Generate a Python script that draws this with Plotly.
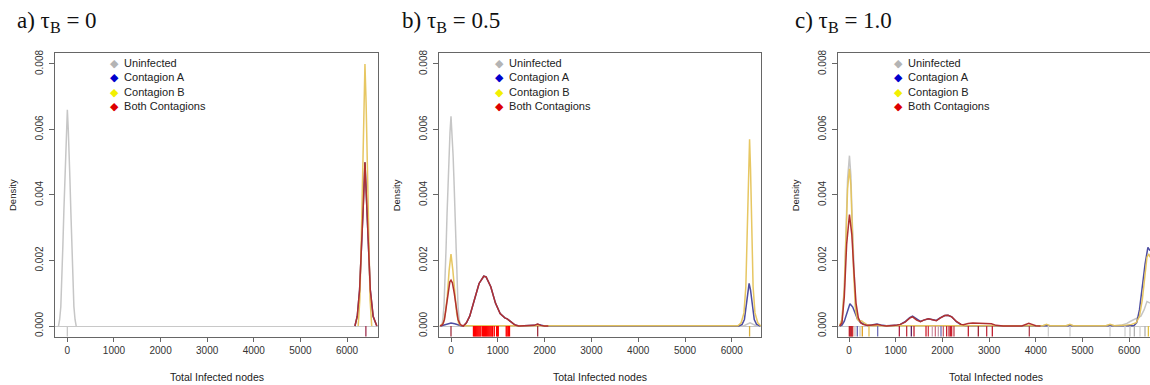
import plotly.graph_objects as go

# ---------------- data ----------------
X_TICKS = [0, 1000, 2000, 3000, 4000, 5000, 6000]
Y_TICKS = [0.0, 0.002, 0.004, 0.006, 0.008]
Y_TICK_TEXT = ["0.000", "0.002", "0.004", "0.006", "0.008"]
SERIES = ["Uninfected", "Contagion A", "Contagion B", "Both Contagions"]
PANEL_TITLES = ["a) \u03c4<sub>B</sub> = 0", "b) \u03c4<sub>B</sub> = 0.5", "c) \u03c4<sub>B</sub> = 1.0"]

# panel a : tau_B = 0
A_UNINF_X = [-190, -165, -140, -115, -95, -75, -55, -40, -20, 0, 20, 40, 55, 75, 95, 115, 140, 165, 190]
A_UNINF_Y = [0.0, 0.0002, 0.0006, 0.0014, 0.0025, 0.0035, 0.0045, 0.0053, 0.0060, 0.0066,
             0.0060, 0.0053, 0.0045, 0.0035, 0.0025, 0.0014, 0.0006, 0.0002, 0.0]
A_CONTA_X = [6170, 6220, 6270, 6310, 6350, 6385, 6420, 6460, 6500, 6560, 6640]
A_CONTA_Y = [0.0, 0.0003, 0.0011, 0.0022, 0.0037, 0.0050, 0.0037, 0.0022, 0.0011, 0.0003, 0.0]
A_CONTB_X = [6240, 6275, 6305, 6335, 6360, 6385, 6410, 6435, 6465, 6495, 6530]
A_CONTB_Y = [0.0, 0.0008, 0.0025, 0.0050, 0.0068, 0.0080, 0.0068, 0.0050, 0.0025, 0.0008, 0.0]
A_BOTH_X = [6170, 6220, 6270, 6310, 6350, 6385, 6420, 6460, 6500, 6560, 6640]
A_BOTH_Y = [0.0, 0.0003, 0.0011, 0.0022, 0.0037, 0.0050, 0.0037, 0.0022, 0.0011, 0.0003, 0.0]
A_RUG_X = [0, 6405]
A_RUG_C = ["#c8c8c8", "#a03050"]

# panel b : tau_B = 0.5
B_UNINF_X = [-200, -175, -150, -125, -105, -85, -65, -45, -22, 0, 22, 45, 65, 85, 105, 125, 150, 175, 200,
             6250, 6320, 6390, 6460, 6530]
B_UNINF_Y = [0.0, 0.0002, 0.0006, 0.0014, 0.0024, 0.0034, 0.0044, 0.0052, 0.0059, 0.0064,
             0.0059, 0.0052, 0.0044, 0.0034, 0.0024, 0.0014, 0.0006, 0.0002, 0.0,
             0.0, 0.00005, 0.0001, 0.00005, 0.0]
B_CONTA_X = [-220, -150, -80, 0, 80, 150, 230, 270, 330, 400, 500, 600, 700, 750, 850, 950, 1050, 1150,
             1200, 1280, 1370, 1450, 1780, 1850, 1920, 2000,
             6150, 6220, 6270, 6310, 6340, 6370, 6400, 6440, 6480, 6530, 6610]
B_CONTA_Y = [0.0, 0.00003, 0.00007, 0.00009, 0.00007, 0.00003, 0.0, 0.0, 0.0001, 0.0003, 0.0008, 0.0013,
             0.00152, 0.0015, 0.0012, 0.0007, 0.00038, 0.00025, 0.00022, 0.00012, 0.00003, 0.0,
             0.00002, 0.00005, 0.00002, 0.0,
             0.0, 0.00005, 0.0002, 0.0006, 0.0010, 0.0013, 0.0011, 0.0006, 0.0002, 0.00005, 0.0]
B_CONTB_X = [-235, -160, -120, -80, -40, 0, 40, 80, 120, 160, 200, 260, 6130, 6200, 6260, 6300, 6335,
             6360, 6380, 6400, 6425, 6455, 6495, 6555, 6620]
B_CONTB_Y = [0.0, 0.0001, 0.0004, 0.0009, 0.0017, 0.0022, 0.0017, 0.0009, 0.0004, 0.0001, 0.00002,
             0.00001, 0.00001, 0.0001, 0.0004, 0.0012, 0.0030, 0.0048, 0.0057, 0.0048, 0.0030, 0.0012,
             0.0004, 0.0001, 0.0]
B_BOTH_X = [-235, -180, -140, -100, -60, -25, 0, 30, 70, 110, 150, 200, 263, 330, 400, 500, 600, 700, 750,
            850, 950, 1050, 1150, 1200, 1280, 1370, 1450, 1700, 1780, 1850, 1920, 2000, 2080]
B_BOTH_Y = [0.0, 0.00004, 0.0002, 0.0006, 0.0011, 0.00135, 0.0014, 0.00132, 0.0010, 0.0006, 0.0002,
            0.00004, 0.0, 0.0001, 0.0003, 0.0008, 0.0013, 0.00152, 0.0015, 0.0012, 0.0007, 0.00038,
            0.00025, 0.00022, 0.00012, 0.00003, 0.0, 0.0, 0.00002, 0.00006, 0.00002, 0.0, 0.0]
B_RUG_X = [0, 480, 500, 520, 540, 560, 580, 600, 620, 640, 675, 695, 715, 735, 755, 775, 795, 815, 835,
           855, 875, 890, 925, 975, 995, 1010, 1180, 1200, 1225, 1250, 1852, 6380]
B_RUG_C = ["#a03040"] + ["#ff0000"] * 29 + ["#a03040", "#d8b040"]

# panel c : tau_B = 1.0
C_UNINF_X = [-200, -150, -100, -60, -30, 10, 40, 70, 100, 140, 180, 230, 280, 340, 420, 4150, 4230, 4300,
             4650, 4730, 4800, 5500, 5590, 5680, 5850, 5950, 6050, 6150, 6250, 6320, 6380, 6445]
C_UNINF_Y = [0.0, 0.0002, 0.0012, 0.0030, 0.0045, 0.0052, 0.0046, 0.0032, 0.0018, 0.0006, 0.00025,
             0.00015, 0.0001, 0.00004, 0.00001, 0.00001, 0.00004, 0.00001, 0.00001, 0.00004, 0.00001,
             0.00001, 0.00004, 0.00001, 0.00003, 0.00008, 0.00016, 0.00022, 0.0003, 0.0005, 0.00075,
             0.0007]
C_CONTA_X = [-200, -150, -100, -50, 20, 80, 130, 180, 250, 330, 420, 520, 600, 680, 800, 1000, 1100, 1200,
             1300, 1360, 1450, 1530, 1600, 1700, 1800, 1870, 1950, 2050, 2120, 2200, 2300, 2400, 2500,
             6100, 6160, 6220, 6280, 6340, 6400, 6445]
C_CONTA_Y = [0.0, 0.00003, 0.00015, 0.0004, 0.00068, 0.00058, 0.0004, 0.00022, 0.0001, 0.00005, 0.00002,
             0.00003, 0.00006, 0.00003, 0.00001, 0.00002, 0.00005, 0.00013, 0.00026, 0.0003, 0.0002,
             0.00014, 0.00018, 0.00022, 0.00019, 0.00017, 0.00025, 0.00032, 0.00033, 0.00028, 0.00013,
             0.00004, 0.00001, 0.00001, 0.0001, 0.0005, 0.0012, 0.0019, 0.0024, 0.0023]
C_CONTB_X = [-200, -150, -100, -60, -30, 10, 40, 70, 100, 140, 180, 230, 270, 320, 400, 500, 4150, 4230,
             4300, 4650, 4730, 4800, 5500, 5590, 5680, 5900, 6050, 6150, 6220, 6280, 6330, 6380, 6420, 6445]
C_CONTB_Y = [0.0, 0.0002, 0.0011, 0.0028, 0.0042, 0.0048, 0.0043, 0.0030, 0.0016, 0.0005, 0.0002,
             0.00014, 0.00016, 0.0001, 0.00003, 0.00001, 0.00001, 0.00005, 0.00001, 0.00001, 0.00005,
             0.00001, 0.00001, 0.00005, 0.00001, 0.00002, 0.00005, 0.0001, 0.0003, 0.0008, 0.0015, 0.0021,
             0.0022, 0.0021]
C_BOTH_X = [-200, -150, -100, -50, 10, 60, 100, 150, 200, 250, 300, 400, 500, 600, 700, 800, 1000, 1100,
            1200, 1300, 1360, 1450, 1530, 1600, 1700, 1800, 1870, 1950, 2050, 2120, 2200, 2300, 2400, 2450,
            2550, 2650, 2750, 2850, 2950, 3050, 3150, 3300, 3700, 3780, 3850, 3920, 4000, 4100]
C_BOTH_Y = [0.0, 0.0001, 0.0009, 0.0025, 0.0034, 0.0028, 0.0018, 0.0007, 0.00025, 0.0001, 0.00005,
            0.00002, 0.00003, 0.00005, 0.00002, 0.0, 0.00002, 0.00005, 0.00012, 0.00024, 0.00028,
            0.00018, 0.00013, 0.00018, 0.00022, 0.00018, 0.00016, 0.00024, 0.00032, 0.00033, 0.00028,
            0.00014, 0.00005, 0.00004, 0.00008, 0.00009, 0.00008, 0.00009, 0.00007, 0.00007, 0.00002,
            0.0, 0.0, 0.00004, 0.00008, 0.00005, 0.00001, 0.0]
C_RUG_X = [7, 25, 43, 60, 79, 128, 178, 236, 285, 428, 614, 1078, 1235, 1335, 1392, 1649, 1699, 1784, 1849,
           1913, 1970, 2020, 2091, 2141, 2170, 2198, 2248, 2555, 2769, 2948, 3069, 3861, 4268, 4732, 5589,
           5910, 6017, 6110, 6231, 6338, 6410]
C_RUG_C = ["#d02020", "#a02040", "#e01010", "#b02030", "#d03030", "#c8c8c8", "#6060b0", "#c8c8c8",
           "#e0a020", "#e8c050", "#7070b8", "#b02040", "#c03040", "#602060", "#c02030", "#d02030",
           "#d04050", "#d0a0b0", "#d07080", "#c8a0b0", "#7070b8", "#d06070", "#c02030", "#d03040",
           "#c02030", "#d02030", "#c04050", "#c02030", "#a02030", "#c03040", "#c02030", "#b04050",
           "#d0d0d0", "#d0d0d0", "#d0d0d0", "#d0d0d0", "#c0c0c0", "#b0b0b0", "#d0d0d0", "#b0b0b0",
           "#e0c040"]

# ---------------- style ----------------
LINE_COLORS = {"Uninfected": "#c6c6c6", "Contagion A": "#3a3a98",
               "Contagion B": "#e6c45a", "Both Contagions": "#b03030"}
LINE_OPACITY = {"Uninfected": 1.0, "Contagion A": 0.9, "Contagion B": 0.95, "Both Contagions": 1.0}
KEY_COLORS = ["#b4b4b4", "#0000cc", "#f2f000", "#dd0000"]
X_RANGES = [[-265, 6665], [-250, 6624], [-229, 6445]]
Y_RANGE = [-0.00032, 0.00832]
FW, FH = 1150, 385
BOX_X = [(55, 378), (439.3, 761), (838.3, 1150)]
BOX_Y = (50, 336)
SANS = "Liberation Sans, Arial, sans-serif"
SERIF = "Liberation Serif, Times New Roman, serif"


def px(xp):
    return xp / FW


def py(yp):
    return 1 - yp / FH


panels = [
    [(A_UNINF_X, A_UNINF_Y), (A_CONTA_X, A_CONTA_Y), (A_CONTB_X, A_CONTB_Y), (A_BOTH_X, A_BOTH_Y), (A_RUG_X, A_RUG_C)],
    [(B_UNINF_X, B_UNINF_Y), (B_CONTA_X, B_CONTA_Y), (B_CONTB_X, B_CONTB_Y), (B_BOTH_X, B_BOTH_Y), (B_RUG_X, B_RUG_C)],
    [(C_UNINF_X, C_UNINF_Y), (C_CONTA_X, C_CONTA_Y), (C_CONTB_X, C_CONTB_Y), (C_BOTH_X, C_BOTH_Y), (C_RUG_X, C_RUG_C)],
]

fig = go.Figure()
rug_y = Y_RANGE[0] + 0.015 * (Y_RANGE[1] - Y_RANGE[0])
annotations = []
for i, pdata in enumerate(panels):
    sfx = "" if i == 0 else str(i + 1)
    xa, ya = "x" + sfx, "y" + sfx
    for name, (xs, ys) in zip(SERIES, pdata[:4]):
        fig.add_trace(go.Scatter(x=xs, y=ys, mode="lines", name=name, showlegend=False,
                                 line=dict(color=LINE_COLORS[name], width=1.5),
                                 opacity=LINE_OPACITY[name], xaxis=xa, yaxis=ya,
                                 hoverinfo="skip"))
    rx, rc = pdata[4]
    fig.add_trace(go.Scatter(x=rx, y=[rug_y] * len(rx), mode="markers", showlegend=False,
                             marker=dict(symbol="line-ns", size=9, color=rc,
                                         line=dict(color=rc, width=1.3)),
                             xaxis=xa, yaxis=ya, hoverinfo="skip"))
    x0, x1 = BOX_X[i]
    fig.layout["xaxis" + sfx] = dict(
        domain=[px(x0), min(1.0, px(x1))], range=X_RANGES[i], tickvals=X_TICKS, ticks="outside",
        ticklen=4, tickcolor="#666", showline=True, linecolor="#666", linewidth=1,
        mirror=True, showgrid=False, zeroline=False, anchor=ya,
        tickfont=dict(family=SANS, size=10, color="#333"))
    fig.layout["yaxis" + sfx] = dict(
        domain=[py(BOX_Y[1]), py(BOX_Y[0])], range=Y_RANGE, tickvals=Y_TICKS,
        ticktext=Y_TICK_TEXT, tickangle=-90, ticks="outside", ticklen=5, tickcolor="#666",
        ticklabelstandoff=2,
        showline=True, linecolor="#666", linewidth=1, mirror=(i < 2), showgrid=False,
        zeroline=True, zerolinecolor="#c8c8c8", zerolinewidth=1, anchor=xa,
        tickfont=dict(family=SANS, size=10, color="#333"))

    # panel title
    title_x = [15, 400, 793][i]
    annotations.append(dict(text=PANEL_TITLES[i], x=px(title_x), y=py(2), xref="paper", yref="paper",
                            xanchor="left", yanchor="top", showarrow=False,
                            font=dict(family=SERIF, size=23, color="#111")))
    # axis titles
    annotations.append(dict(text="Density", x=px(x0 - 42), y=py(193), xref="paper", yref="paper",
                            xanchor="center", yanchor="middle",
                            textangle=-90, showarrow=False, font=dict(family=SANS, size=9.5, color="#222")))
    cx = [216.5, 600, 996][i]
    annotations.append(dict(text="Total Infected nodes", x=px(cx), y=py(377), xref="paper", yref="paper",
                            xanchor="center", yanchor="middle",
                            showarrow=False, font=dict(family=SANS, size=10.5, color="#222")))
    # key
    key_x = [108, 493, 892][i]
    key_lines = ["<span style='color:%s'>\u25c6</span>&nbsp;&nbsp;%s" % (c, n) for c, n in zip(KEY_COLORS, SERIES)]
    annotations.append(dict(text="<br>".join(key_lines), x=px(key_x), y=py(52), xref="paper", yref="paper",
                            xanchor="left", yanchor="top", align="left", showarrow=False,
                            font=dict(family=SANS, size=11, color="#222")))

fig.update_layout(width=FW, height=FH, margin=dict(l=0, r=0, t=0, b=0), paper_bgcolor="white",
                  plot_bgcolor="white", showlegend=False, annotations=annotations)
fig.write_html("out.html", config={"displayModeBar": False},
               post_script="document.body.style.margin='0';document.body.style.overflow='hidden';")
